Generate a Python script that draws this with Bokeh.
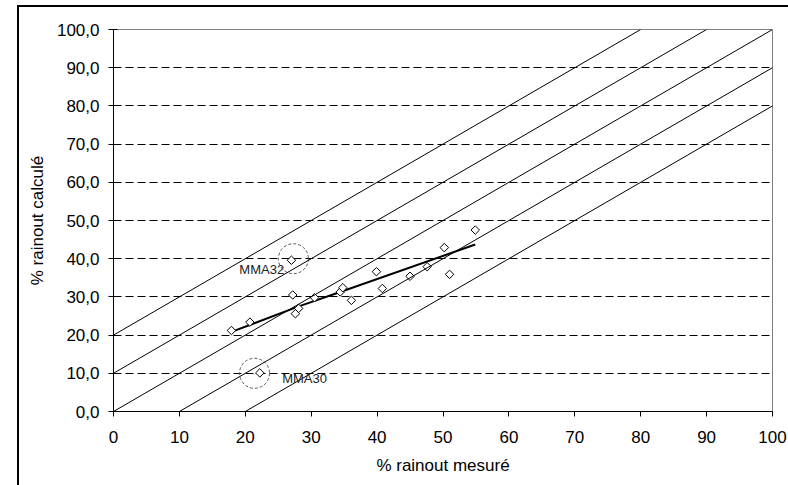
import math
from bokeh.plotting import figure
from bokeh.models import Slope, FixedTicker, Label
from bokeh.embed import file_html
from bokeh.resources import INLINE

# --- data ---
measured = [17.9, 20.7, 27.2, 27.0, 27.6, 28.1, 30.5, 34.4, 34.8, 36.1,
            39.9, 40.8, 45.0, 47.6, 50.2, 51.0, 54.9, 22.2]
calculated = [21.2, 23.4, 30.5, 39.6, 25.6, 27.0, 29.8, 31.3, 32.4, 29.1,
              36.6, 32.2, 35.4, 37.9, 42.9, 35.9, 47.5, 10.1]

trend_x = [18.0, 27.9, 34.4, 54.9]
trend_y = [20.9, 27.4, 31.3, 43.7]

diag_offsets = [20, 10, 0, -10, -20]

outlier_names = ["MMA32", "MMA30"]
outlier_cx = [27.3, 21.4]
outlier_cy = [40.0, 10.0]
outlier_label_x = [19.1, 25.6]
outlier_label_y = [37.1, 8.7]

x_ticks = [0, 10, 20, 30, 40, 50, 60, 70, 80, 90, 100]
x_tick_labels = ["0", "10", "20", "30", "40", "50", "60", "70", "80", "90", "100"]
y_ticks = [0, 10, 20, 30, 40, 50, 60, 70, 80, 90, 100]
y_tick_labels = ["0,0", "10,0", "20,0", "30,0", "40,0", "50,0", "60,0",
                 "70,0", "80,0", "90,0", "100,0"]

FONT = "Liberation Sans"
FS = "17px"

p = figure(frame_width=659, frame_height=382,
           x_range=(0, 100), y_range=(0, 100),
           output_backend="svg", toolbar_location=None,
           min_border_left=94, min_border_right=16,
           min_border_top=22, min_border_bottom=74,
           background_fill_color="white", border_fill_color="white",
           styles={"margin-left": "17px", "margin-top": "5px",
                   "border-left": "2px solid black",
                   "border-top": "2px solid black"})

p.outline_line_color = "#808080"
p.outline_line_width = 1

# grid
p.xgrid.visible = False
p.ygrid.ticker = FixedTicker(ticks=y_ticks[1:-1])
p.ygrid.grid_line_color = "black"
p.ygrid.grid_line_dash = "8 4"
p.ygrid.grid_line_width = 1

# axes
p.xaxis.ticker = FixedTicker(ticks=x_ticks)
p.yaxis.ticker = FixedTicker(ticks=y_ticks)
p.xaxis.major_label_overrides = {t: l for t, l in zip(x_ticks, x_tick_labels)}
p.yaxis.major_label_overrides = {t: l for t, l in zip(y_ticks, y_tick_labels)}
for ax in (p.xaxis[0], p.yaxis[0]):
    ax.axis_line_color = "black"
    ax.axis_line_width = 1
    ax.major_tick_line_color = "black"
    ax.minor_tick_line_color = None
    ax.major_label_text_font = FONT
    ax.major_label_text_font_size = FS
    ax.major_label_text_color = "black"
    ax.axis_label_text_font = FONT
    ax.axis_label_text_font_size = FS
    ax.axis_label_text_font_style = "normal"
    ax.axis_label_text_color = "black"
p.xaxis.major_tick_in = 0
p.xaxis.major_tick_out = 5
p.yaxis.major_tick_in = 4
p.yaxis.major_tick_out = 5
p.xaxis.major_label_standoff = 14
p.yaxis.major_label_standoff = 9
p.xaxis.axis_label = "% rainout mesuré"
p.yaxis.axis_label = "% rainout calculé"
p.xaxis.axis_label_standoff = 10
p.yaxis.axis_label_standoff = 7

# diagonal reference lines
for k in diag_offsets:
    p.add_layout(Slope(gradient=1, y_intercept=k, line_color="black", line_width=1))

# trend line
p.line(trend_x, trend_y, line_color="black", line_width=2)

# points
p.scatter(measured, calculated, marker="square", angle=math.pi / 4, size=6,
          fill_color="white", line_color="black", line_width=1)

# outlier circles
p.scatter(outlier_cx, outlier_cy, marker="circle", size=30, fill_color=None,
          line_color="#555555", line_width=1, line_dash="3 2")

for name, lx, ly in zip(outlier_names, outlier_label_x, outlier_label_y):
    p.add_layout(Label(x=lx, y=ly, text=name, text_font=FONT,
                       text_font_size="13px", text_color="#222222",
                       text_align="left", text_baseline="middle"))

open("out.html", "w").write(file_html(p, INLINE))
